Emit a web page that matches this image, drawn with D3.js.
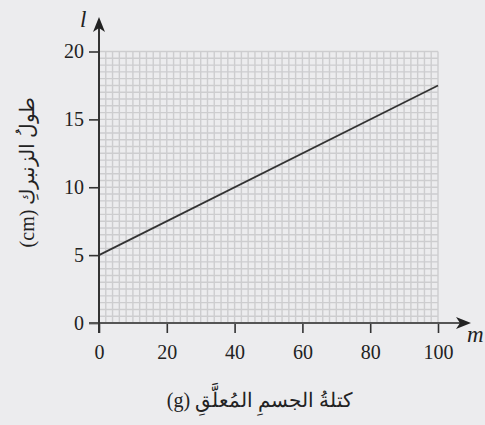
<!DOCTYPE html>
<html>
<head>
<meta charset="utf-8">
<script src="https://cdn.jsdelivr.net/npm/d3@7"></script>
<style>
  html, body { margin: 0; padding: 0; background: #ececee; }
  svg { display: block; }
  .serif { font-family: "Liberation Serif", "Times New Roman", serif; }
</style>
</head>
<body>
<svg id="chart" width="485" height="425"></svg>
<script>
// Spring length versus hanging mass
const massPoints = [0, 100];          // g
const lengthPoints = [5, 17.5];       // cm
const xTickValues = [0, 20, 40, 60, 80, 100];
const yTickValues = [0, 5, 10, 15, 20];
const xTitle = "كتلةُ الجسمِ المُعلَّقِ (g)";
const yTitle = "طولُ الزنبركِ (cm)";

const svg = d3.select("#chart");
const x = d3.scaleLinear().domain([0, 100]).range([99, 438]);
const y = d3.scaleLinear().domain([0, 20]).range([323, 51.5]);

// Fine graph-paper grid
const grid = svg.append("g").attr("stroke", "#cdcdcf").attr("stroke-width", 1.4);
grid.selectAll("line.v").data(d3.range(2, 100.1, 2)).join("line")
  .attr("x1", d => x(d)).attr("x2", d => x(d))
  .attr("y1", y(0)).attr("y2", y(20));
grid.selectAll("line.h").data(d3.range(0.5, 20.01, 0.5)).join("line")
  .attr("x1", x(0)).attr("x2", x(100))
  .attr("y1", d => y(d)).attr("y2", d => y(d));

// Axes
const xAxis = d3.axisBottom(x).tickValues(xTickValues).tickSize(10).tickSizeOuter(0).tickPadding(12);
const yAxis = d3.axisLeft(y).tickValues(yTickValues).tickSize(10).tickSizeOuter(0).tickPadding(5);

const gx = svg.append("g").attr("transform", `translate(0,${y(0)})`).call(xAxis);
const gy = svg.append("g").attr("transform", `translate(${x(0)},0)`).call(yAxis);
[gx, gy].forEach(g => {
  g.attr("font-family", null);
  g.select(".domain").remove();
  g.selectAll(".tick line").attr("stroke", "#333").attr("stroke-width", 1.6);
  g.selectAll(".tick text").attr("class", "serif").attr("fill", "#222").attr("font-size", 20);
});

// Axis lines with arrow heads
svg.append("line").attr("x1", 89).attr("x2", 462).attr("y1", y(0)).attr("y2", y(0))
  .attr("stroke", "#555").attr("stroke-width", 2);
svg.append("line").attr("x1", x(0)).attr("x2", x(0)).attr("y1", 333).attr("y2", 26)
  .attr("stroke", "#333").attr("stroke-width", 2);
const tipX = 471, tipY = y(0);
svg.append("path")
  .attr("d", `M${tipX},${tipY} L${tipX - 15},${tipY - 6} L${tipX - 11},${tipY} L${tipX - 15},${tipY + 6} Z`)
  .attr("fill", "#222");
const topX = x(0), topY = 17;
svg.append("path")
  .attr("d", `M${topX},${topY} L${topX - 6},${topY + 15} L${topX},${topY + 11} L${topX + 6},${topY + 15} Z`)
  .attr("fill", "#222");

// Data line
svg.append("path")
  .datum(massPoints.map((m, i) => [m, lengthPoints[i]]))
  .attr("fill", "none").attr("stroke", "#333").attr("stroke-width", 1.8)
  .attr("d", d3.line().x(d => x(d[0])).y(d => y(d[1])));

// Axis symbols
svg.append("text").attr("class", "serif").attr("x", 80).attr("y", 27).text("l")
  .attr("font-style", "italic").attr("font-size", 23).attr("fill", "#222");
svg.append("text").attr("class", "serif").attr("x", 467).attr("y", 342).text("m")
  .attr("font-style", "italic").attr("font-size", 23).attr("fill", "#222");

// Axis titles
svg.append("text").attr("class", "serif").attr("x", 260).attr("y", 407).attr("text-anchor", "middle")
  .attr("font-size", 20).attr("fill", "#222")
  .attr("direction", "rtl").text(xTitle);
svg.append("text").attr("class", "serif").attr("transform", "translate(34,172) rotate(-90)").attr("text-anchor", "middle")
  .attr("font-size", 20).attr("fill", "#222")
  .attr("direction", "rtl").text(yTitle);
</script>
</body>
</html>
